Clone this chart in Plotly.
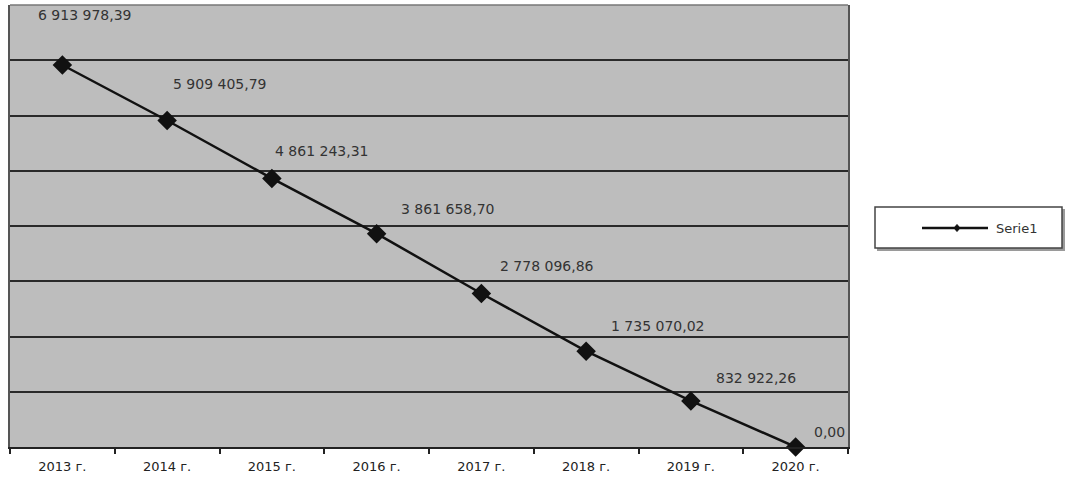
import plotly.graph_objects as go

categories = ["2013 г.", "2014 г.", "2015 г.", "2016 г.", "2017 г.", "2018 г.", "2019 г.", "2020 г."]
values = [6913978.39, 5909405.79, 4861243.31, 3861658.70, 2778096.86, 1735070.02, 832922.26, 0.00]
series_name = "Serie1"

# label placement styles (pixel offsets of each data label from its point)
label_dx = [23, 53, 50, 71, 66, 72, 65, 34]
label_dy = [50, 37, 27, 25, 28, 25, 23, 15]

FONT = "DejaVu Sans, Liberation Sans, Arial"


def fmt(v):
    s = f"{v:,.2f}"
    return s.replace(",", " ").replace(".", ",")


fig = go.Figure()
fig.add_trace(go.Scatter(
    x=categories, y=values, mode="lines+markers", name=series_name,
    line=dict(color="#111111", width=2.5),
    marker=dict(symbol="diamond", size=15, color="#111111"),
    showlegend=False, cliponaxis=False,
))

for c, v, dx, dy in zip(categories, values, label_dx, label_dy):
    fig.add_annotation(x=c, y=v, text=fmt(v), showarrow=False,
                       xanchor="center", yanchor="middle", xshift=dx, yshift=dy,
                       font=dict(family=FONT, size=14, color="#333333"))

L, R, T, B = 10, 219, 5, 36
W, H = 1067, 483
pw, ph = W - L - R, H - T - B


def px(x):
    return (x - L) / pw


def py(y):
    return (H - B - y) / ph


# manual legend
fig.add_shape(type="rect", xref="paper", yref="paper",
              x0=px(877), x1=px(1065), y0=py(251), y1=py(209),
              line=dict(width=0), fillcolor="#9a9a9a", layer="above")
fig.add_shape(type="rect", xref="paper", yref="paper",
              x0=px(875), x1=px(1062), y0=py(248), y1=py(207),
              line=dict(color="#444444", width=1.5), fillcolor="white", layer="above")
fig.add_shape(type="line", xref="paper", yref="paper",
              x0=px(922), x1=px(988), y0=py(228), y1=py(228),
              line=dict(color="#111111", width=2.5), layer="above")
mx, my = px(957), py(228)
ddx, ddy = 3 / pw, 3.5 / ph
fig.add_shape(type="path", xref="paper", yref="paper",
              path=f"M {mx-ddx} {my} L {mx} {my+ddy} L {mx+ddx} {my} L {mx} {my-ddy} Z",
              fillcolor="#111111", line=dict(color="#111111", width=1), layer="above")
fig.add_annotation(xref="paper", yref="paper", x=px(994), y=py(228), text=series_name,
                   showarrow=False, xanchor="left", yanchor="middle",
                   font=dict(family=FONT, size=13, color="#333333"))

fig.update_layout(
    width=W, height=H,
    margin=dict(l=L, r=R, t=T, b=B),
    paper_bgcolor="white",
    plot_bgcolor="#bdbdbd",
    showlegend=False,
    font=dict(family=FONT, size=14, color="#222222"),
)
fig.update_xaxes(
    type="category", range=[-0.5, 7.5],
    showgrid=False, showline=True, linecolor="#222222", linewidth=2,
    ticks="outside", tickson="boundaries", ticklen=5, tickcolor="#222222", tickwidth=1.5,
    ticklabelstandoff=6,
    mirror=False, tickfont=dict(family=FONT, size=13, color="#222222"),
)
fig.update_yaxes(
    range=[0, 8000000], dtick=1000000,
    showgrid=True, gridcolor="#2a2a2a", gridwidth=1.5,
    showticklabels=False, zeroline=False,
    showline=True, linecolor="#555555", linewidth=1.5, mirror=True,
)
# top border of the plot area
fig.add_shape(type="line", xref="paper", yref="paper", x0=0, x1=1, y0=1, y1=1,
              line=dict(color="#777777", width=1.5))

fig.write_html("out.html", config={"displayModeBar": False},
               post_script="document.body.style.margin='0';")
